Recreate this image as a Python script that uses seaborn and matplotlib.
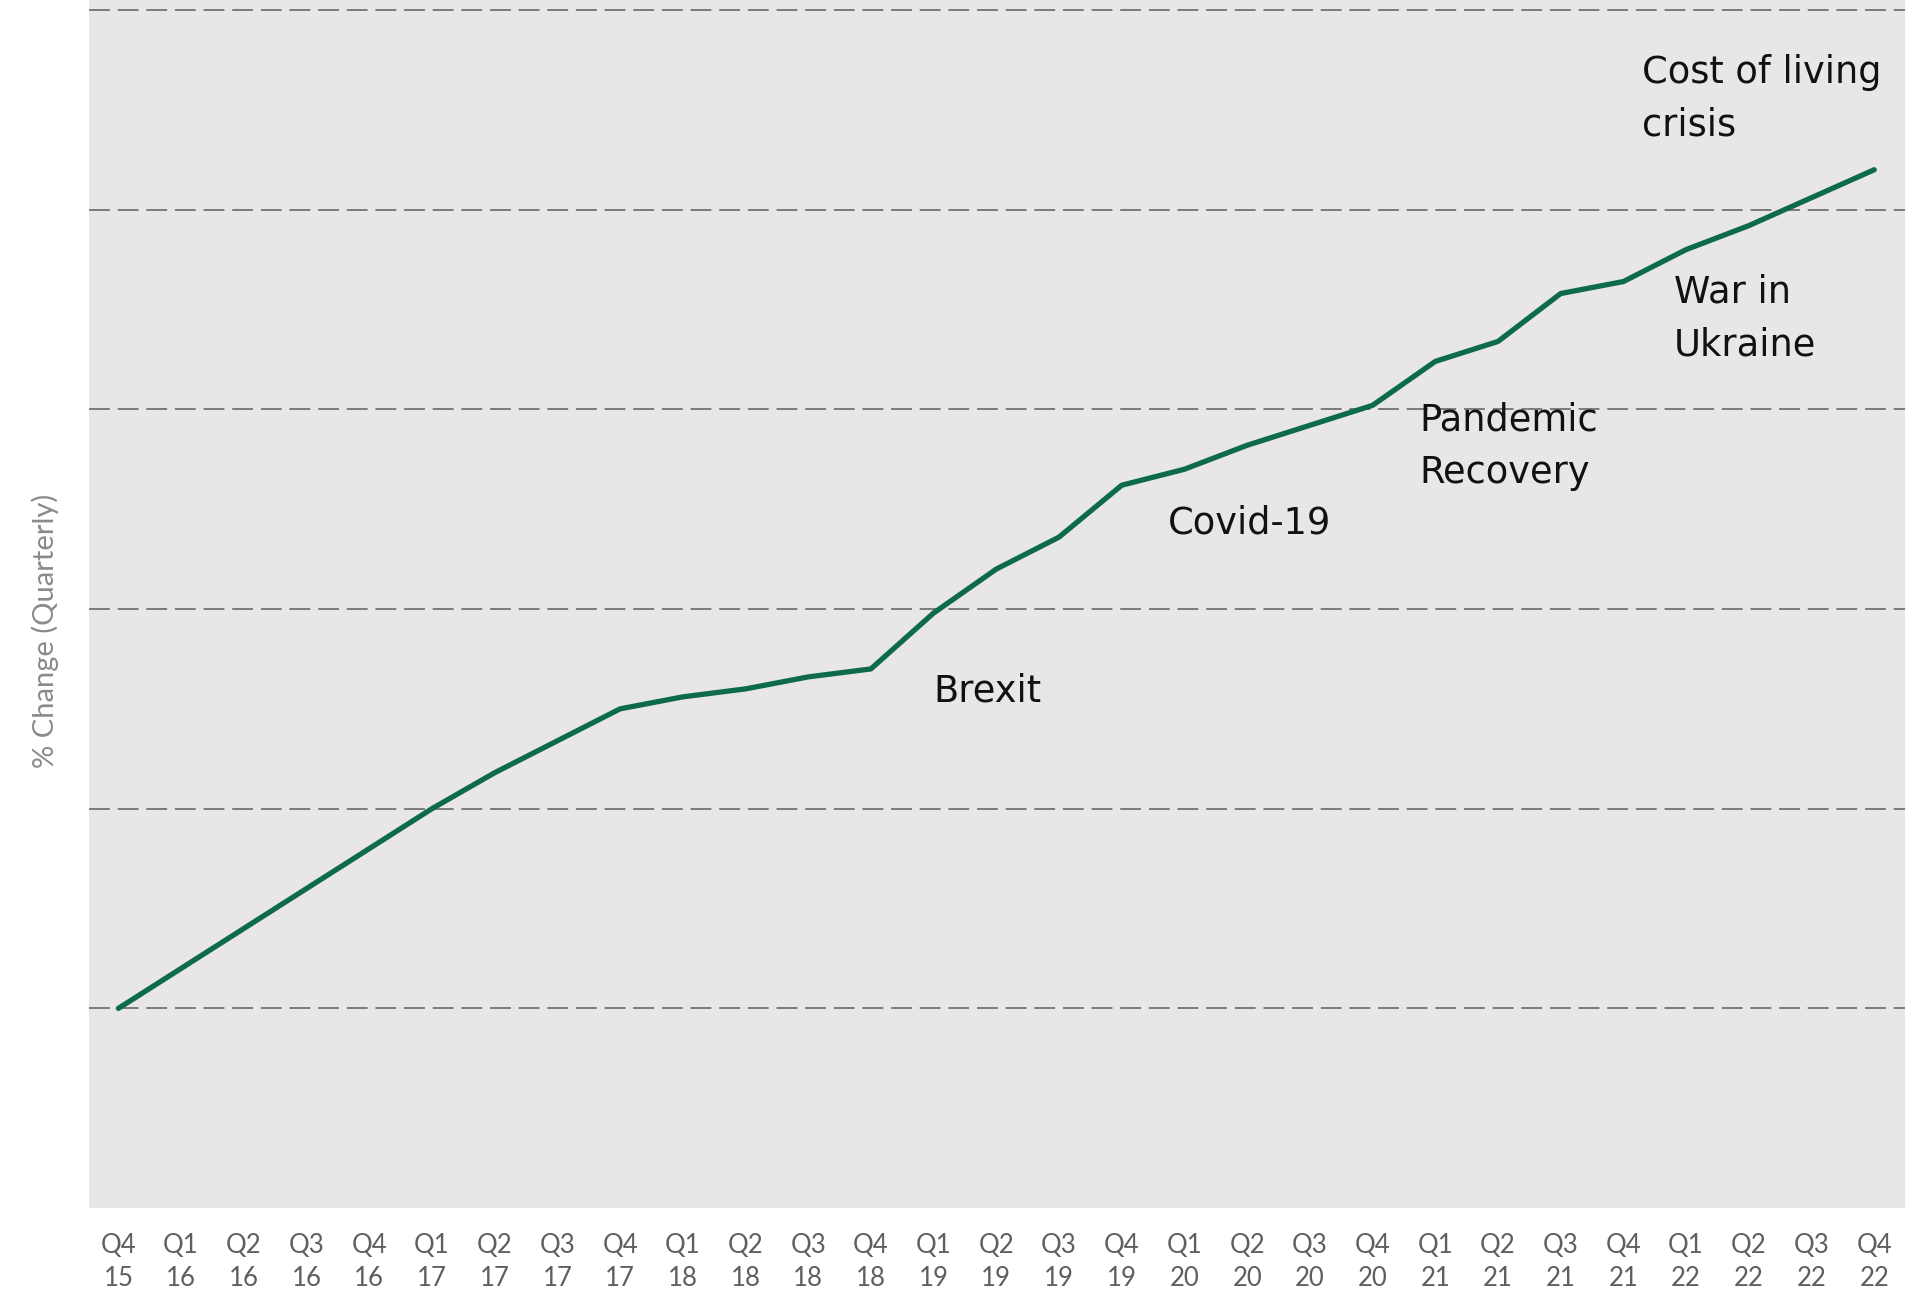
import numpy as np
import pandas as pd
import matplotlib
matplotlib.use("Agg")
import matplotlib.pyplot as plt
import seaborn as sns

# Quarter labels (quarter / two-digit year)
quarters = ["Q4", "Q1", "Q2", "Q3", "Q4", "Q1", "Q2", "Q3", "Q4", "Q1",
            "Q2", "Q3", "Q4", "Q1", "Q2", "Q3", "Q4", "Q1", "Q2", "Q3",
            "Q4", "Q1", "Q2", "Q3", "Q4", "Q1", "Q2", "Q3", "Q4"]
years = ["15", "16", "16", "16", "16", "17", "17", "17", "17", "18",
         "18", "18", "18", "19", "19", "19", "19", "20", "20", "20",
         "20", "21", "21", "21", "21", "22", "22", "22", "22"]

# Cumulative change series
change = [0.0, 1.0, 2.0, 3.0, 4.0, 5.0, 5.9, 6.7, 7.5, 7.8,
          8.0, 8.3, 8.5, 9.9, 11.0, 11.8, 13.1, 13.5, 14.1, 14.6,
          15.1, 16.2, 16.7, 17.9, 18.2, 19.0, 19.6, 20.3, 21.0]

# Event annotations: text, x position (quarter index), baseline of last line
events = ["Brexit", "Covid-19", "Pandemic\nRecovery", "War in\nUkraine",
          "Cost of living\ncrisis"]
event_x = [13.0, 16.73, 20.74, 24.81, 24.30]
event_y = [7.69, 11.88, 13.15, 16.36, 21.85]

grid_levels = [0, 5, 10, 15, 20, 25]

sns.set_theme(style="white")
plt.rcParams["font.family"] = ["DejaVu Sans"]

df = pd.DataFrame({"q": np.arange(len(change)), "change": change})

fig = plt.figure(figsize=(19.33, 12.89), dpi=100)
ax = fig.add_axes([0.046, 0.0628, 0.9395, 0.9372])
ax.set_facecolor("#e8e6e7")

for lvl in grid_levels:
    ax.axhline(lvl, color="#6e6e6e", lw=1.25, dashes=(12, 4.5), zorder=1)

sns.lineplot(data=df, x="q", y="change", ax=ax, color="#0d6b4b",
             lw=3.8, sort=False, zorder=3)

for txt, xx, yy in zip(events, event_x, event_y):
    ax.text(xx, yy, txt, fontsize=26.5, color="#111111", ha="left",
            va="baseline", linespacing=1.55, zorder=4)

ax.set_xlim(-0.47, 28.49)
ax.set_ylim(-5, 25.25)

ax.set_xticks(np.arange(len(quarters)))
ax.set_xticklabels([f"{q}\n{y}" for q, y in zip(quarters, years)],
                   fontsize=18.5, color="#5f5f5f",
                   family=["Lato", "DejaVu Sans"])
for lab in ax.get_xticklabels():
    lab.set_linespacing(1.4)
ax.tick_params(axis="x", length=0, pad=18)
ax.set_yticks([])

ax.set_xlabel("")
ax.set_ylabel("")
fig.text(45.6 / 1933, 1 - 631 / 1289, "% Change (Quarterly)", rotation=90,
         ha="center", va="center", fontsize=21, color="#8a8a8a",
         family=["Lato", "DejaVu Sans"])

for sp in ax.spines.values():
    sp.set_visible(False)

fig.savefig("out.png", dpi=100, facecolor="white")
